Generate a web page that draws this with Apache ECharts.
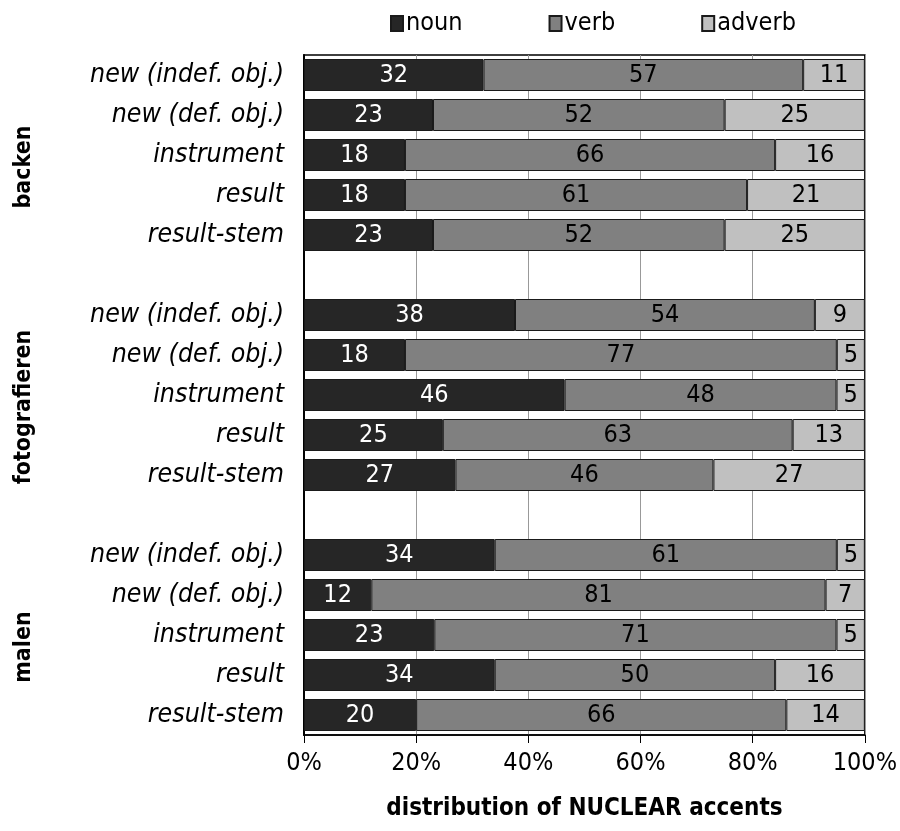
<!DOCTYPE html>
<html><head><meta charset="utf-8">
<script src="https://cdn.jsdelivr.net/npm/echarts@6/dist/echarts.min.js"></script>
<style>html,body{margin:0;padding:0;background:#fff}#c{width:900px;height:831px}</style>
</head><body><div id="c"></div>
<script>
const categories = [
  'new (indef. obj.)','new (def. obj.)','instrument','result','result-stem','',
  'new (indef. obj.) ','new (def. obj.) ','instrument ','result ','result-stem ',' ',
  'new (indef. obj.)  ','new (def. obj.)  ','instrument  ','result  ','result-stem  '
];
const groupLabels = ['', '', 'backen', '', '', '', '', '', 'fotografieren', '', '', '', '', '', 'malen', '', ''];
const noun   = [32,23,18,18,23,null,38,18,46,25,27,null,34,12,23,34,20];
const verb   = [57,52,66,61,52,null,54,77,48,63,46,null,61,81,71,50,66];
const adverb = [11,25,16,21,25,null, 9, 5, 5,13,27,null, 5, 7, 5,16,14];
const xTicks = ['0%','20%','40%','60%','80%','100%'];

const FONT = "'DejaVu Sans Condensed','Liberation Sans Narrow','Open Sans',sans-serif";
function norm(arr, i) {
  const v = arr[i];
  if (v == null) return null;
  const t = noun[i] + verb[i] + adverb[i];
  return { value: v / t * 100, raw: v };
}
function mk(name, arr, color, labelColor) {
  return {
    name, type: 'bar', stack: 'all', barWidth: '80%',
    data: arr.map((v, i) => norm(arr, i)),
    itemStyle: { color, borderColor: '#1a1a1a', borderWidth: 1 },
    label: { show: true, position: 'inside', color: labelColor, fontSize: 25, fontFamily: FONT,
      formatter: p => p.data ? String(p.data.raw) : '' },
    emphasis: { disabled: true }
  };
}
const chart = echarts.init(document.getElementById('c'));
chart.setOption({
  animation: false,
  legend: {
    top: 6, left: 385, itemWidth: 12, itemHeight: 15, itemGap: 86,
    icon: 'rect',
    textStyle: { fontSize: 25, fontFamily: FONT, color: '#000', padding: [0,0,0,-2] },
    data: ['noun','verb','adverb']
  },
  grid: { left: 304, right: 35, top: 55, bottom: 96, show: true, borderColor: '#000', borderWidth: 1.5, containLabel: false },
  xAxis: {
    type: 'value', min: 0, max: 100, interval: 20,
    axisLabel: { fontSize: 25, fontFamily: FONT, color: '#000', margin: 16,
      formatter: v => xTicks[Math.round(v / 20)] },
    axisLine: { show: true, lineStyle: { color: '#000', width: 1.5 } },
    axisTick: { show: true, length: 8, lineStyle: { color: '#000' } },
    splitLine: { show: true, lineStyle: { color: '#999', width: 1 } },
    name: 'distribution of NUCLEAR accents', nameLocation: 'middle', nameGap: 62,
    nameTextStyle: { fontSize: 24, fontWeight: 'bold', fontFamily: FONT, color: '#000' }
  },
  yAxis: [{
    type: 'category', inverse: true, data: categories,
    axisLabel: { fontSize: 26.5, fontStyle: 'italic', fontFamily: FONT, color: '#000', margin: 20,
      formatter: v => v.trim() },
    axisLine: { show: true, lineStyle: { color: '#000', width: 2 } },
    axisTick: { show: false }, splitLine: { show: false }
  }, {
    type: 'category', inverse: true, data: groupLabels, position: 'left',
    axisLabel: { fontSize: 23, fontWeight: 'bold', fontFamily: FONT, color: '#000', rotate: 90, margin: 280, interval: 0,
      align: 'center', verticalAlign: 'middle', padding: [0, 24, 0, 0] },
    axisLine: { show: false }, axisTick: { show: false }, splitLine: { show: false }
  }],
  series: [
    mk('noun', noun, '#262626', '#fff'),
    mk('verb', verb, '#808080', '#000'),
    mk('adverb', adverb, '#c0c0c0', '#000')
  ]
});
</script></body></html>
